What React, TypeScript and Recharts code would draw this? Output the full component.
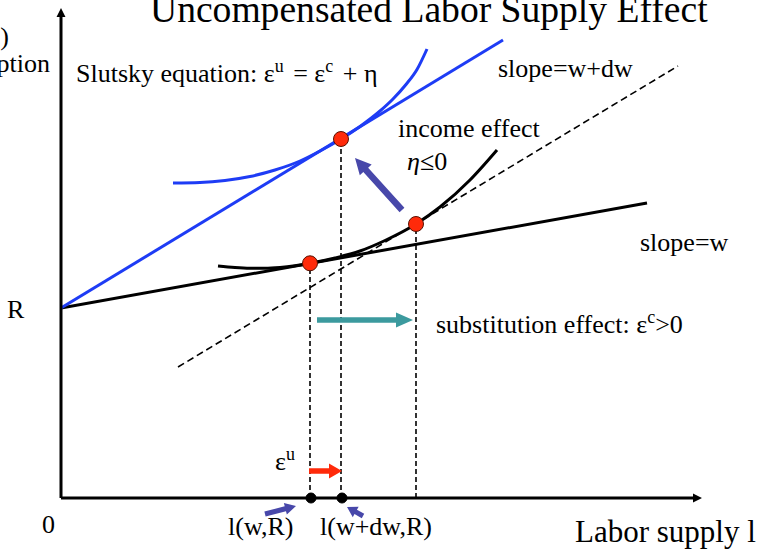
import { ComposedChart, Line, XAxis, YAxis, ReferenceLine, ReferenceDot } from 'recharts';

// units: x = labor supply, y = consumption (origin at the axes corner)
const budgetW = [{ x: 0, y: 190 }, { x: 586, y: 295 }];
const budgetWdw = [{ x: 0, y: 190 }, { x: 442, y: 458 }];
const compensated = [{ x: 117, y: 131 }, { x: 617, y: 432 }];

const icHigh = [
  { x: 112, y: 315 }, { x: 139, y: 315.5 }, { x: 164, y: 317.5 }, { x: 189, y: 321.5 },
  { x: 214, y: 328 }, { x: 239, y: 337 }, { x: 259, y: 347 }, { x: 280, y: 359 },
  { x: 299, y: 371.5 }, { x: 319, y: 387 }, { x: 332, y: 399 }, { x: 345, y: 413.5 },
  { x: 356, y: 428.5 }, { x: 366, y: 449 },
];
const icLow = [
  { x: 157, y: 232 }, { x: 174, y: 230.5 }, { x: 189, y: 229.8 }, { x: 204, y: 229.7 },
  { x: 219, y: 230.5 }, { x: 234, y: 232.2 }, { x: 249, y: 234.7 }, { x: 274, y: 240 },
  { x: 299, y: 247 }, { x: 324, y: 257.5 }, { x: 355, y: 274 }, { x: 379, y: 291 },
  { x: 409, y: 318 }, { x: 436, y: 348 },
];

// optimum points: before (w), after (w+dw), compensated
const optW = { x: 249, y: 234.7 };
const optWdw = { x: 280, y: 359 };
const optComp = { x: 355, y: 274 };

const dropW = [{ x: optW.x, y: 0 }, optW];
const dropWdw = [{ x: optWdw.x, y: 0 }, optWdw];
const dropComp = [{ x: optComp.x, y: 0 }, optComp];

// arrows: [tail, tip]
const axisY = [{ x: 0, y: 0 }, { x: 0, y: 490 }];
const axisX = [{ x: 0, y: 0 }, { x: 641, y: 0 }];
const incomeArrow = [{ x: 341, y: 288 }, { x: 294, y: 340 }];
const substArrow = [{ x: 256, y: 178 }, { x: 352, y: 178 }];
const uncompArrow = [{ x: 248, y: 27 }, { x: 281, y: 27 }];
const pointerLeft = [{ x: 204, y: -16 }, { x: 235, y: -8 }];
const pointerRight = [{ x: 302, y: -18 }, { x: 286, y: -9 }];

const BLUE = '#1E3CF5';
const PURPLE = '#4848AA';
const TEAL = '#3C9A9E';
const RED = '#FF2A0A';

const arrowShape = (color: string, w: number, hl: number, hw: number) => (p: any) => {
  const { x1, y1, x2, y2 } = p;
  const dx = x2 - x1;
  const dy = y2 - y1;
  const len = Math.hypot(dx, dy) || 1;
  const ux = dx / len;
  const uy = dy / len;
  const nx = -uy;
  const ny = ux;
  const bx = x2 - ux * hl;
  const by = y2 - uy * hl;
  const pts = [
    [x1 + (nx * w) / 2, y1 + (ny * w) / 2],
    [bx + (nx * w) / 2, by + (ny * w) / 2],
    [bx + nx * hw, by + ny * hw],
    [x2, y2],
    [bx - nx * hw, by - ny * hw],
    [bx - (nx * w) / 2, by - (ny * w) / 2],
    [x1 - (nx * w) / 2, y1 - (ny * w) / 2],
  ];
  return <polygon points={pts.map((q) => q.join(',')).join(' ')} fill={color} />;
};

const seg = (a: { x: number; y: number }[]) =>
  [{ x: a[0].x, y: a[0].y }, { x: a[1].x, y: a[1].y }] as any;

const SERIF = { fontFamily: '"Liberation Serif", "Times New Roman", Times, "DejaVu Serif", serif' };

export default function App() {
  return (
    <div style={{ position: 'absolute', left: 0, top: 0, width: 765, height: 549, background: '#fff' }}>
      <ComposedChart width={765} height={549} margin={{ top: 0, right: 4, bottom: 51, left: 61 }}>
        <XAxis type="number" dataKey="x" domain={[0, 700]} hide allowDataOverflow />
        <YAxis type="number" dataKey="y" domain={[0, 498]} hide allowDataOverflow />

        <Line data={dropW} dataKey="y" type="linear" stroke="#000" strokeWidth={1.6} strokeDasharray="5 3" dot={false} isAnimationActive={false} />
        <Line data={dropWdw} dataKey="y" type="linear" stroke="#000" strokeWidth={1.6} strokeDasharray="5 3" dot={false} isAnimationActive={false} />
        <Line data={dropComp} dataKey="y" type="linear" stroke="#000" strokeWidth={1.6} strokeDasharray="5 3" dot={false} isAnimationActive={false} />
        <Line data={compensated} dataKey="y" type="linear" stroke="#000" strokeWidth={1.6} strokeDasharray="7 4" dot={false} isAnimationActive={false} />

        <Line data={budgetW} dataKey="y" type="linear" stroke="#000" strokeWidth={3} dot={false} isAnimationActive={false} />
        <Line data={icLow} dataKey="y" type="monotone" stroke="#000" strokeWidth={3} dot={false} isAnimationActive={false} />
        <Line data={budgetWdw} dataKey="y" type="linear" stroke={BLUE} strokeWidth={3} dot={false} isAnimationActive={false} />
        <Line data={icHigh} dataKey="y" type="monotone" stroke={BLUE} strokeWidth={3} dot={false} isAnimationActive={false} />

        <ReferenceLine segment={seg(axisY)} ifOverflow="visible" shape={arrowShape('#000', 3, 9, 4.5)} />
        <ReferenceLine segment={seg(axisX)} ifOverflow="visible" shape={arrowShape('#000', 3, 9, 4.5)} />
        <ReferenceLine segment={seg(incomeArrow)} ifOverflow="visible" shape={arrowShape(PURPLE, 6.5, 16, 8)} />
        <ReferenceLine segment={seg(substArrow)} ifOverflow="visible" shape={arrowShape(TEAL, 5.5, 17, 7.5)} />
        <ReferenceLine segment={seg(uncompArrow)} ifOverflow="visible" shape={arrowShape(RED, 5.5, 13, 7.5)} />
        <ReferenceLine segment={seg(pointerLeft)} ifOverflow="visible" shape={arrowShape(PURPLE, 5, 11, 6)} />
        <ReferenceLine segment={seg(pointerRight)} ifOverflow="visible" shape={arrowShape(PURPLE, 5, 10, 6)} />

        <ReferenceDot x={optW.x + 1} y={0} r={5} fill="#000" stroke="#000" ifOverflow="visible" />
        <ReferenceDot x={optWdw.x + 1} y={0} r={5} fill="#000" stroke="#000" ifOverflow="visible" />
        <ReferenceDot x={optW.x} y={optW.y} r={7.5} fill={RED} stroke="#5a1000" strokeWidth={1} ifOverflow="visible" />
        <ReferenceDot x={optWdw.x} y={optWdw.y} r={7.5} fill={RED} stroke="#5a1000" strokeWidth={1} ifOverflow="visible" />
        <ReferenceDot x={optComp.x} y={optComp.y} r={7.5} fill={RED} stroke="#5a1000" strokeWidth={1} ifOverflow="visible" />
      </ComposedChart>

      <svg
        width={765}
        height={549}
        style={{ position: 'absolute', left: 0, top: 0, pointerEvents: 'none', ...SERIF }}
        fill="#000"
      >
        <text style={SERIF} x={150} y={22} fontSize={37.6}>Uncompensated Labor Supply Effect</text>
        <text style={SERIF} x={9} y={45} fontSize={26} textAnchor="end">(c)</text>
        <text style={SERIF} x={50} y={72} fontSize={26} textAnchor="end">Consumption</text>
        <text style={SERIF} x={76} y={82} fontSize={26}>
          Slutsky equation: ε<tspan fontSize={18} dy={-10}>u</tspan>
          <tspan dy={10} dx={3}> = ε</tspan><tspan fontSize={18} dy={-10}>c</tspan>
          <tspan dy={10} dx={3}> + η</tspan>
        </text>
        <text style={SERIF} x={498} y={77} fontSize={26}>slope=w+dw</text>
        <text style={SERIF} x={398} y={137} fontSize={26}>income effect</text>
        <text style={SERIF} x={407} y={170} fontSize={26}>
          <tspan fontStyle="italic">η</tspan>≤0
        </text>
        <text style={SERIF} x={640} y={251} fontSize={26}>slope=w</text>
        <text style={SERIF} x={7} y={318} fontSize={26}>R</text>
        <text style={SERIF} x={436} y={333} fontSize={26}>
          substitution effect: ε<tspan fontSize={18} dy={-10}>c</tspan>
          <tspan dy={10}>&gt;0</tspan>
        </text>
        <text style={SERIF} x={275} y={470} fontSize={26}>
          ε<tspan fontSize={18} dy={-10}>u</tspan>
        </text>
        <text style={SERIF} x={42} y={533} fontSize={26}>0</text>
        <text style={SERIF} x={228} y={535} fontSize={26}>l(w,R)</text>
        <text style={SERIF} x={320} y={535} fontSize={26}>l(w+dw,R)</text>
        <text style={SERIF} x={575} y={542} fontSize={31}>Labor supply l</text>
      </svg>
    </div>
  );
}
